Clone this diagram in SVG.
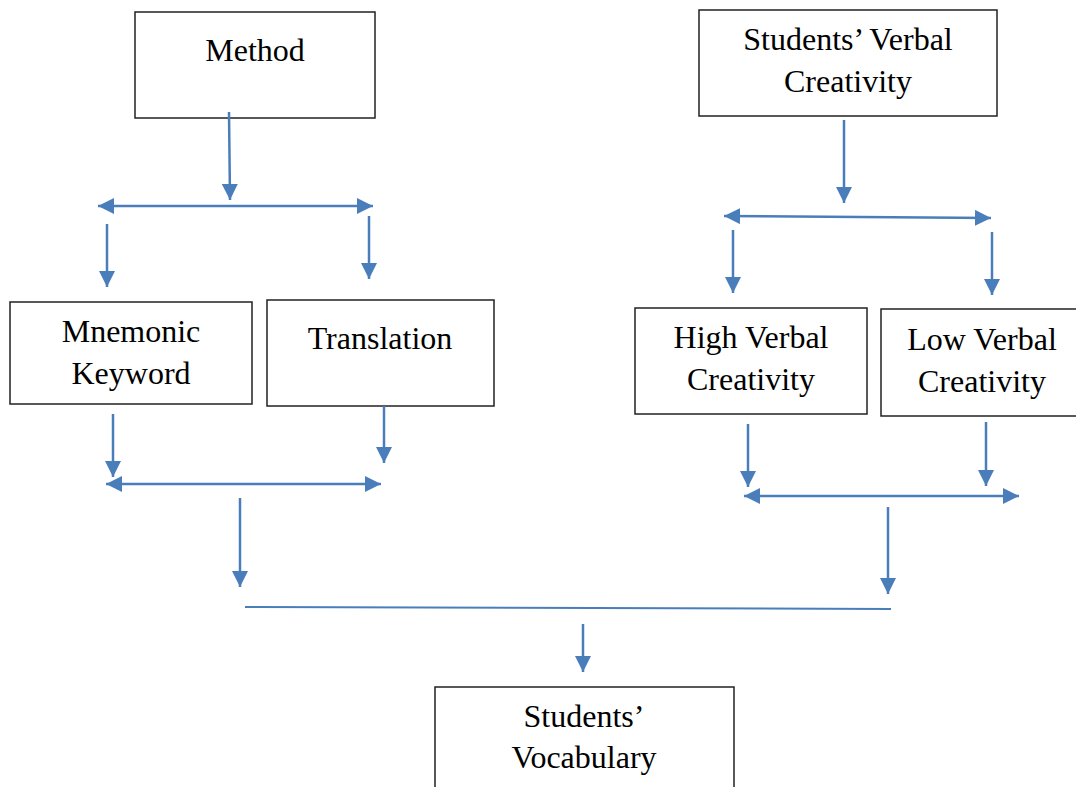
<svg xmlns="http://www.w3.org/2000/svg" width="1076" height="787" viewBox="0 0 1076 787">
<style>
.box{fill:#fff;stroke:#222;stroke-width:1.5}
.t{font-family:"Liberation Serif","Times New Roman",serif;font-size:32px;fill:#000;text-anchor:middle}
.c{stroke:#4a7ebb;stroke-width:2.5;fill:none}
</style>
<defs>
<marker id="ah" markerUnits="userSpaceOnUse" markerWidth="16" markerHeight="16" viewBox="0 0 16 16" refX="16" refY="8" orient="auto-start-reverse">
<path d="M0,0 L16,8 L0,16 Z" fill="#4a7ebb"/>
</marker>
</defs>
<rect width="1076" height="787" fill="#fff"/>
<g id="method"><rect class="box" x="135" y="12" width="240" height="106"/><text class="t" x="255" y="61">Method</text></g>
<g id="svc"><rect class="box" x="699" y="10" width="298" height="106"/><text class="t" x="848" y="50">Students’ Verbal</text><text class="t" x="848" y="92">Creativity</text></g>
<g id="mnemonic"><rect class="box" x="10" y="302" width="242" height="102"/><text class="t" x="131" y="342">Mnemonic</text><text class="t" x="131" y="384">Keyword</text></g>
<g id="translation"><rect class="box" x="267" y="300" width="227" height="106"/><text class="t" x="380" y="349">Translation</text></g>
<g id="high"><rect class="box" x="635" y="308" width="232" height="106"/><text class="t" x="751" y="348">High Verbal</text><text class="t" x="751" y="390">Creativity</text></g>
<g id="low"><rect class="box" x="881" y="309" width="200" height="107"/><text class="t" x="982" y="350">Low Verbal</text><text class="t" x="982" y="392">Creativity</text></g>
<g id="vocab"><rect class="box" x="435" y="687" width="299" height="110"/><text class="t" x="584" y="727">Students’</text><text class="t" x="584" y="768">Vocabulary</text></g>
<g id="connectors">
<line class="c" x1="229" y1="112" x2="230" y2="200" marker-end="url(#ah)"/>
<line class="c" x1="98" y1="206" x2="373" y2="206" marker-start="url(#ah)" marker-end="url(#ah)"/>
<line class="c" x1="107" y1="224" x2="107" y2="287" marker-end="url(#ah)"/>
<line class="c" x1="369" y1="216" x2="369" y2="279" marker-end="url(#ah)"/>
<line class="c" x1="844" y1="120" x2="844" y2="203" marker-end="url(#ah)"/>
<line class="c" x1="724" y1="216" x2="991" y2="218" marker-start="url(#ah)" marker-end="url(#ah)"/>
<line class="c" x1="733" y1="230" x2="733" y2="293" marker-end="url(#ah)"/>
<line class="c" x1="992" y1="232" x2="992" y2="295" marker-end="url(#ah)"/>
<line class="c" x1="113" y1="414" x2="113" y2="477" marker-end="url(#ah)"/>
<line class="c" x1="384" y1="406" x2="384" y2="463" marker-end="url(#ah)"/>
<line class="c" x1="106" y1="484" x2="381" y2="484" marker-start="url(#ah)" marker-end="url(#ah)"/>
<line class="c" x1="240" y1="498" x2="240" y2="587" marker-end="url(#ah)"/>
<line class="c" x1="748" y1="424" x2="748" y2="487" marker-end="url(#ah)"/>
<line class="c" x1="986" y1="422" x2="986" y2="486" marker-end="url(#ah)"/>
<line class="c" x1="744" y1="496" x2="1019" y2="496" marker-start="url(#ah)" marker-end="url(#ah)"/>
<line class="c" x1="888" y1="507" x2="888" y2="594" marker-end="url(#ah)"/>
<line class="c" x1="245" y1="607" x2="891" y2="609" style="stroke-width:2"/>
<line class="c" x1="583" y1="624" x2="583" y2="672" marker-end="url(#ah)"/>
</g>
</svg>
